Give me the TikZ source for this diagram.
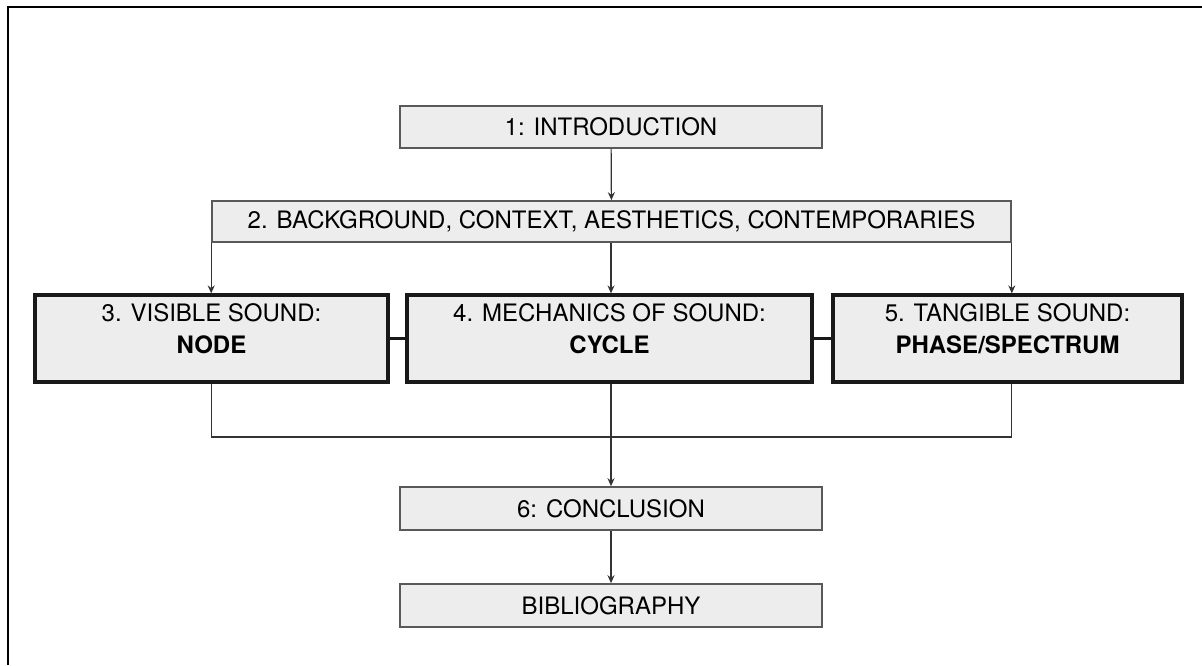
\documentclass[tikz,border=0pt]{standalone}
\usepackage{fontspec}
\setmainfont{TeX Gyre Heros}
\usetikzlibrary{arrows.meta}

\begin{document}
\begin{tikzpicture}[x=0.5pt,y=-0.5pt]
   \tikzset{ChapterStyle/.style={draw=black!65, line width=0.8pt, fill=black!7, inner sep=0pt, font=\fontsize{12}{14}\selectfont}}
   \tikzset{PartStyle/.style={draw=black!90, line width=1.6pt, fill=black!7, minimum height=43.5pt, inner sep=0pt}}
   \tikzset{TitleStyle/.style={anchor=north, yshift=-5pt, align=center, inner sep=0pt, font=\fontsize{12}{16}\selectfont}}
   \tikzset{EdgeStyle/.style={-{Stealth[length=4pt,width=3.5pt]}, line width=0.6pt, black!80}}
   \tikzset{LinkStyle/.style={line width=0.6pt, black!80}}
   \tikzset{PartLinkStyle/.style={line width=1.4pt, black!90}}
   \useasboundingbox (0,0) rectangle (1202,665);
   \draw[line width=1pt] (8,665) -- (8,7) -- (1202,7);
   \node[ChapterStyle, minimum width=211pt, minimum height=21pt] (intro) at (611,127) {1: INTRODUCTION};
   \node[ChapterStyle, minimum width=399.5pt, minimum height=20.5pt] (back) at (611.5,221.5) {2. BACKGROUND, CONTEXT, AESTHETICS, CONTEMPORARIES};
   \node[PartStyle, minimum width=176.5pt, label={[TitleStyle]north:{3. VISIBLE SOUND:\\\textbf{NODE}}}] (node) at (211.5,338.5) {};
   \node[PartStyle, minimum width=202.5pt, label={[TitleStyle]north:{4. MECHANICS OF SOUND:\\\textbf{CYCLE}}}] (cycle) at (609.5,338.5) {};
   \node[PartStyle, minimum width=174.5pt, label={[TitleStyle]north:{5. TANGIBLE SOUND:\\\textbf{PHASE/SPECTRUM}}}] (phase) at (1007.5,338.5) {};
   \node[ChapterStyle, minimum width=211pt, minimum height=21.5pt] (concl) at (611,508.5) {6: CONCLUSION};
   \node[ChapterStyle, minimum width=211pt, minimum height=21.5pt] (biblio) at (611,605.5) {BIBLIOGRAPHY};
   \coordinate (join) at (611,437);
   \draw[EdgeStyle] (intro) -- (back);
   \draw[EdgeStyle] (back.south west) -- (back.south west |- node.north);
   \draw[EdgeStyle] (back.south -| intro) -- (intro |- cycle.north);
   \draw[EdgeStyle] (back.south east) -- (back.south east |- phase.north);
   \draw[PartLinkStyle] (node) -- (cycle);
   \draw[PartLinkStyle] (cycle) -- (phase);
   \draw[LinkStyle] (back.south west |- node.south) -- (back.south west |- join) -- (back.south east |- join) -- (back.south east |- phase.south);
   \draw[EdgeStyle] (intro |- cycle.south) -- (concl);
   \draw[EdgeStyle] (concl) -- (biblio);
\end{tikzpicture}
\end{document}
